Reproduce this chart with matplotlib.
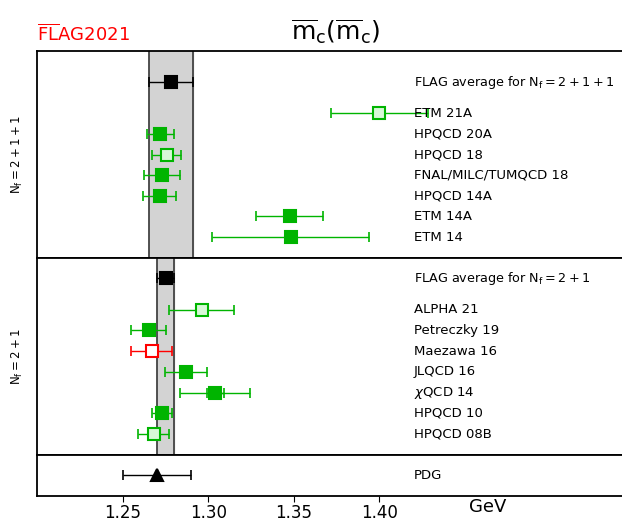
import matplotlib
matplotlib.use("Agg")
import matplotlib.pyplot as plt

# m_c(m_c) results in GeV.
green = "#00b400"
light_green = "#d8f8d8"

# Nf = 2+1+1 (listed bottom to top)
labels_4 = ["ETM 14", "ETM 14A", "HPQCD 14A", "FNAL/MILC/TUMQCD 18",
            "HPQCD 18", "HPQCD 20A", "ETM 21A"]
values_4 = [1.348, 1.3475, 1.2715, 1.273, 1.2757, 1.272, 1.400]
errors_4 = [0.046, 0.0195, 0.0095, 0.0105, 0.0084, 0.0078, 0.0285]
filled_4 = [True, True, True, True, False, True, False]
avg_4, avg_err_4 = 1.278, 0.013

# Nf = 2+1 (listed bottom to top)
labels_3 = ["HPQCD 08B", "HPQCD 10", r"$\chi$QCD 14", "JLQCD 16",
            "Maezawa 16", "Petreczky 19", "ALPHA 21"]
values_3 = [1.268, 1.273, 1.304, 1.2871, 1.267, 1.265, 1.296]
errors_3 = [0.009, 0.006, 0.0206, 0.0123, 0.012, 0.010, 0.019]
stat_errors_3 = [None, None, 0.005, None, None, None, None]
filled_3 = [False, True, True, True, False, True, False]
colors_3 = [green, green, green, green, "red", green, green]
avg_3, avg_err_3 = 1.275, 0.005

pdg_value, pdg_err = 1.27, 0.02

ticks = [1.25, 1.30, 1.35, 1.40]

fig = plt.figure(figsize=(6.22, 5.22), dpi=100)
ax_top = fig.add_axes([0.060, 0.5063, 0.9626, 0.3954])
ax_mid = fig.add_axes([0.060, 0.1289, 0.9626, 0.3774])
ax_bot = fig.add_axes([0.060, 0.0498, 0.9626, 0.0791])

label_x = 1.42
ms = 9
fs = 9.5


def draw_point(ax, x, y, err, color, filled, marker="s", stat=None):
    face = color if filled else (light_green if color == green else "white")
    ax.errorbar(x, y, xerr=err, fmt="none", ecolor=color, elinewidth=1,
                capsize=3.5, capthick=1.2, zorder=3)
    if stat is not None:
        ax.errorbar(x, y, xerr=stat, fmt="none", ecolor=color,
                    elinewidth=1, capsize=3.5, capthick=1.2, zorder=3)
    ax.plot(x, y, marker=marker, ms=ms, mfc=face, mec=color, mew=1.5,
            ls="none", zorder=4)


def draw_band(ax, avg, err, top):
    ax.fill_betweenx([0, top], avg - err, avg + err, color="#d3d3d3",
                     zorder=1)
    for edge in (avg - err, avg + err):
        ax.axvline(edge, color="#444444", lw=1.3, zorder=2)


# top panel: Nf = 2+1+1
draw_band(ax_top, avg_4, avg_err_4, 10)
for i, (lab, v, e, f) in enumerate(zip(labels_4, values_4, errors_4,
                                       filled_4)):
    draw_point(ax_top, v, i + 1, e, green, f)
    ax_top.text(label_x, i + 1, lab, fontsize=fs, va="center")
draw_point(ax_top, avg_4, 8.5, avg_err_4, "black", True)
ax_top.text(label_x, 8.5, r"FLAG average for $\mathrm{N_f=2+1+1}$",
            fontsize=9.2, va="center")
ax_top.set_ylim(0, 10)
ax_top.set_ylabel(r"$\mathrm{N_f=2+1+1}$", fontsize=8.5)

# middle panel: Nf = 2+1
draw_band(ax_mid, avg_3, avg_err_3, 9.5)
for i, (lab, v, e, f, c, s) in enumerate(zip(labels_3, values_3, errors_3,
                                             filled_3, colors_3,
                                             stat_errors_3)):
    draw_point(ax_mid, v, i + 1, e, c, f, stat=s)
    ax_mid.text(label_x, i + 1, lab, fontsize=fs, va="center")
draw_point(ax_mid, avg_3, 8.5, avg_err_3, "black", True)
ax_mid.text(label_x, 8.5, r"FLAG average for $\mathrm{N_f=2+1}$",
            fontsize=9.2, va="center")
ax_mid.set_ylim(0, 9.5)
ax_mid.set_ylabel(r"$\mathrm{N_f=2+1}$", fontsize=8.5)

# bottom panel: PDG
draw_point(ax_bot, pdg_value, 1, pdg_err, "black", True, marker="^")
ax_bot.text(label_x, 1, "PDG", fontsize=fs, va="center")
ax_bot.set_ylim(0, 2)

for ax in (ax_top, ax_mid, ax_bot):
    ax.set_xlim(1.20, 1.55)
    ax.set_yticks([])
    for sp in ax.spines.values():
        sp.set_linewidth(1.3)
    ax.yaxis.set_label_coords(-0.02, 0.5)

for ax in (ax_top, ax_mid):
    ax.set_xticks([])

ax_bot.set_xticks(ticks)
ax_bot.set_xticklabels([f"{t:.2f}" for t in ticks])
ax_bot.tick_params(axis="x", direction="out", length=4, labelsize=12, pad=2)
ax_bot.text(1.463, -0.55, "GeV", fontsize=13, ha="center", va="center",
            transform=ax_bot.transData, clip_on=False)

fig.text(0.06, 0.935, r"$\overline{\mathrm{FL}}\mathrm{AG}$2021",
         color="red", fontsize=13, ha="left", va="center")
fig.text(0.54, 0.94, r"$\overline{\mathrm{m}}_\mathrm{c}(\overline{\mathrm{m}}_\mathrm{c})$",
         fontsize=18, ha="center", va="center")

fig.savefig("out.png", dpi=100)
